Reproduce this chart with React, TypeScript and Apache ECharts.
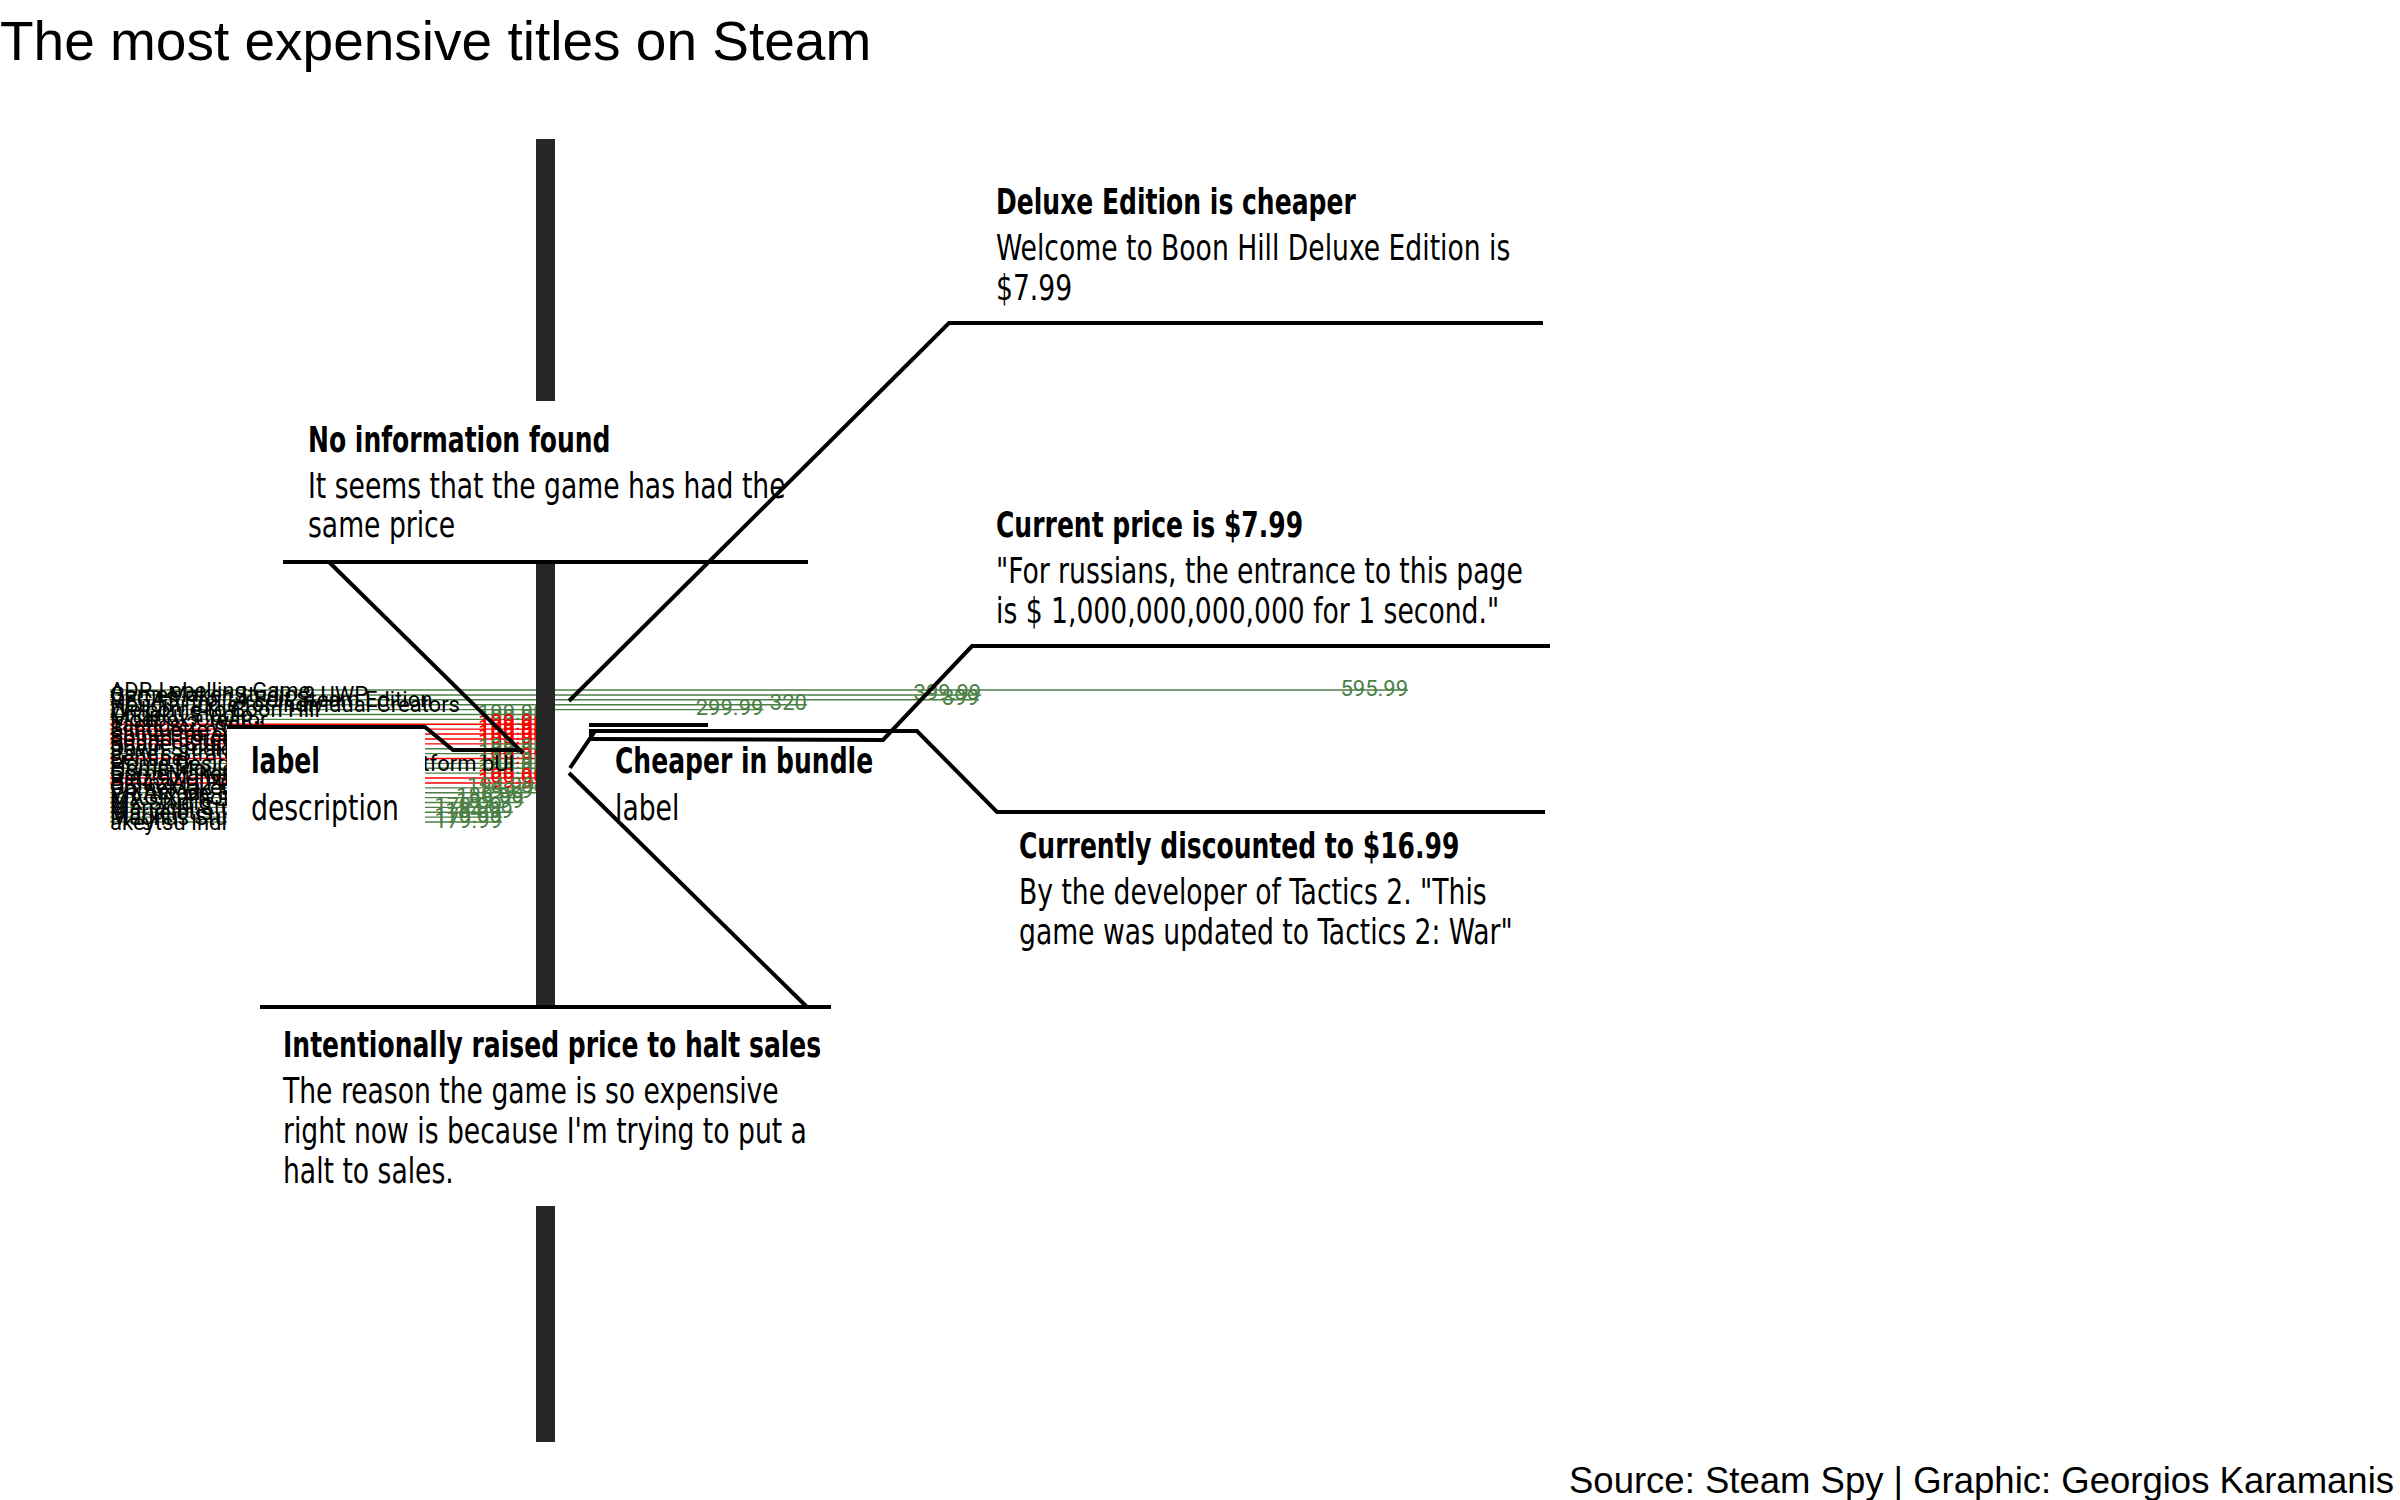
import React, { useEffect, useRef } from "react";
import * as echarts from "echarts";

// ---------- data ----------
const GAMES: string[] = [
  "ADR-Labelling Game",
  "GameMaker Studio 2 UWP",
  "VEGAS Pro 14 Edit Steam Edition",
  "Houdini Indie for Individual Creators",
  "Welcome to Boon Hill",
  "Ongaku Studio",
  "Modbox Creator",
  "Tactics 2: War",
  "Silhouette Studio",
  "Spine Professional",
  "Sound Forge Pro 11",
  "Shader Studio Pro",
  "Dawn Studio",
  "Jane's Strategy Fourth place",
  "Sentinel",
  "Home Design Suite for every platform bUI",
  "Home Movie Studio",
  "GameMaker Studio 2 Mobile",
  "Blitz3D Ultimate",
  "BrainzArt Pro",
  "GameMaker Studio 2 Desktop",
  "VR Arcade Edition",
  "MAGIX Photo Edition",
  "MX Studio",
  "Mariachi Studio",
  "Marvelous Tools",
  "Magnus Studio Pro",
  "akeytsu Indie",
];
const PRICES: number[] = [
  595.99, 399.99, 399, 320, 299.99, 199.99, 199.99, 199.99, 199.99, 199.99,
  199.99, 199.99, 199.99, 199.99, 199.99, 199.99, 199.99, 199.99, 199.99, 199.99,
  194.99, 199.99, 189.99, 189.99, 179.99, 184.99, 179.99, 179.99,
];
const RAISED: boolean[] = [
  false, false, false, false, false, false, false, true, true, true,
  true, true, false, false, true, false, false, false, true, true,
  false, false, false, false, false, false, false, false,
];
const VLINE_PRICE = 199.99;
const X_MAX = 1000;

const TITLE = "The most expensive titles on Steam";
const CAPTION = "Source: Steam Spy | Graphic: Georgios Karamanis";

const NOTE_DELUXE = ["Deluxe Edition is cheaper", "Welcome to Boon Hill Deluxe Edition is", "$7.99"];
const NOTE_CURRENT = ["Current price is $7.99", "\"For russians, the entrance to this page", "is $ 1,000,000,000,000 for 1 second.\""];
const NOTE_DISCOUNT = ["Currently discounted to $16.99", "By the developer of Tactics 2. \"This", "game was updated to Tactics 2: War\""];
const NOTE_NOINFO = ["No information found", "It seems that the game has had the", "same price"];
const NOTE_RAISED = ["Intentionally raised price to halt sales", "The reason the game is so expensive", "right now is because I'm trying to put a", "halt to sales."];
const NOTE_LABEL = ["label", "description"];
const NOTE_BUNDLE = ["Cheaper in bundle", "label"];

// ---------- styles ----------
const GREEN = "#4b7f45";
const RED = "#ff0000";
const NOTE_FONT = "'DejaVu Sans Condensed', 'Liberation Sans Narrow', sans-serif";
const NOTE_SIZE = 35;
const BOLD_SCALE = 0.795;
const REG_SCALE = 0.845;

function noteTexts(lines: string[], x: number, yFirst: number, gapFirst: number, gap: number) {
  const out: any[] = [];
  lines.forEach((t, i) => {
    const y = i === 0 ? yFirst : yFirst + gapFirst + (i - 1) * gap;
    out.push({
      type: "text",
      x,
      y,
      z: 12,
      scaleX: i === 0 ? BOLD_SCALE : REG_SCALE,
      style: {
        text: t,
        fill: "#000",
        fontFamily: NOTE_FONT,
        fontSize: NOTE_SIZE,
        fontWeight: i === 0 ? "bold" : "normal",
        align: "left",
        verticalAlign: "middle",
      },
    });
  });
  return out;
}

function box(x: number, y: number, w: number, h: number) {
  return { type: "rect", z: 10, shape: { x, y, width: w, height: h }, style: { fill: "#fff" } };
}

function pl(points: number[][]) {
  return {
    type: "polyline",
    z: 13,
    shape: { points },
    style: { stroke: "#000", lineWidth: 4, fill: null, lineJoin: "miter" },
  };
}

export default function App() {
  const ref = useRef<HTMLDivElement>(null);
  useEffect(() => {
    if (!ref.current) return;
    const chart = echarts.init(ref.current, null, { renderer: "svg" });
    const colors = RAISED.map((r) => (r ? RED : GREEN));

    const graphics: any[] = [
      {
        type: "text",
        x: 0,
        y: 41,
        z: 12,
        style: { text: TITLE, fill: "#000", fontFamily: "'Liberation Sans', Arial, sans-serif", fontSize: 55, verticalAlign: "middle" },
      },
      {
        type: "text",
        x: 2394,
        y: 1480,
        z: 12,
        style: { text: CAPTION, fill: "#000", fontFamily: "'Liberation Sans', Arial, sans-serif", fontSize: 36.5, align: "right", verticalAlign: "middle" },
      },
      // white label boxes
      box(283, 401, 525, 161),
      box(260, 1007, 571, 199),
      box(227, 729, 198, 110),
      box(596, 742, 285, 95),
      // rules and connectors
      pl([[569, 701], [949, 323], [1543, 323]]),
      pl([[589, 739], [883, 740], [972, 646], [1550, 646]]),
      pl([[589, 731], [917, 731], [997, 812], [1545, 812]]),
      pl([[283, 562], [808, 562]]),
      pl([[329, 562], [523, 753]]),
      pl([[260, 1007], [831, 1007]]),
      pl([[569, 773], [807, 1007]]),
      pl([[227, 727], [425, 727], [453, 750], [520, 750]]),
      pl([[589, 725], [708, 725]]),
      pl([[589, 734], [593, 734], [570, 768]]),
      ...noteTexts(NOTE_DELUXE, 996, 202, 46, 40),
      ...noteTexts(NOTE_CURRENT, 996, 525, 46, 40),
      ...noteTexts(NOTE_DISCOUNT, 1019, 846, 46, 40),
      ...noteTexts(NOTE_NOINFO, 308, 440, 46, 39),
      ...noteTexts(NOTE_RAISED, 283, 1045, 46, 40),
      ...noteTexts(NOTE_LABEL, 251, 761, 47, 40),
      ...noteTexts(NOTE_BUNDLE, 615, 761, 47, 40),
    ];

    const option: any = {
      animation: false,
      backgroundColor: "#fff",
      grid: [
        { left: 110, right: 112, top: 139, height: 1303 },
        { left: 110, right: 112, top: 687.6, height: 136.9 },
      ],
      xAxis: [
        { gridIndex: 0, type: "value", min: 0, max: X_MAX, show: false },
        { gridIndex: 1, type: "value", min: 0, max: X_MAX, show: false },
      ],
      yAxis: [
        { gridIndex: 0, type: "value", min: 0, max: 1, show: false },
        { gridIndex: 1, type: "category", data: GAMES, inverse: true, show: false },
      ],
      series: [
        {
          type: "bar",
          xAxisIndex: 1,
          yAxisIndex: 1,
          barWidth: 1.4,
          data: PRICES.map((p, i) => ({
            value: p,
            itemStyle: { color: colors[i] },
            label: { color: colors[i] },
          })),
          label: {
            show: true,
            position: "insideRight",
            distance: 0,
            offset: [0, -2],
            formatter: "{c}",
            fontFamily: "Roboto",
            fontSize: 22,
          },
          silent: true,
        },
        {
          type: "bar",
          xAxisIndex: 1,
          yAxisIndex: 1,
          barWidth: 1.4,
          barGap: "-100%",
          data: PRICES,
          itemStyle: { color: "rgba(0,0,0,0)" },
          label: {
            show: true,
            position: "insideLeft",
            distance: 0,
            formatter: (p: any) => GAMES[p.dataIndex],
            color: "#000",
            fontFamily: "Roboto",
            fontSize: 22,
          },
          silent: true,
        },
        {
          type: "scatter",
          xAxisIndex: 0,
          yAxisIndex: 0,
          symbolSize: 0,
          data: [[VLINE_PRICE, 0.5]],
          silent: true,
          markLine: {
            silent: true,
            symbol: "none",
            label: { show: false },
            lineStyle: { color: "#262626", width: 19, type: "solid" },
            data: [{ xAxis: VLINE_PRICE }],
          },
        },
      ],
      graphic: graphics,
    };
    chart.setOption(option);
    return () => chart.dispose();
  }, []);
  return (
    <div
      ref={ref}
      style={{ position: "fixed", left: 0, top: 0, width: 2400, height: 1500, background: "#fff" }}
    />
  );
}
